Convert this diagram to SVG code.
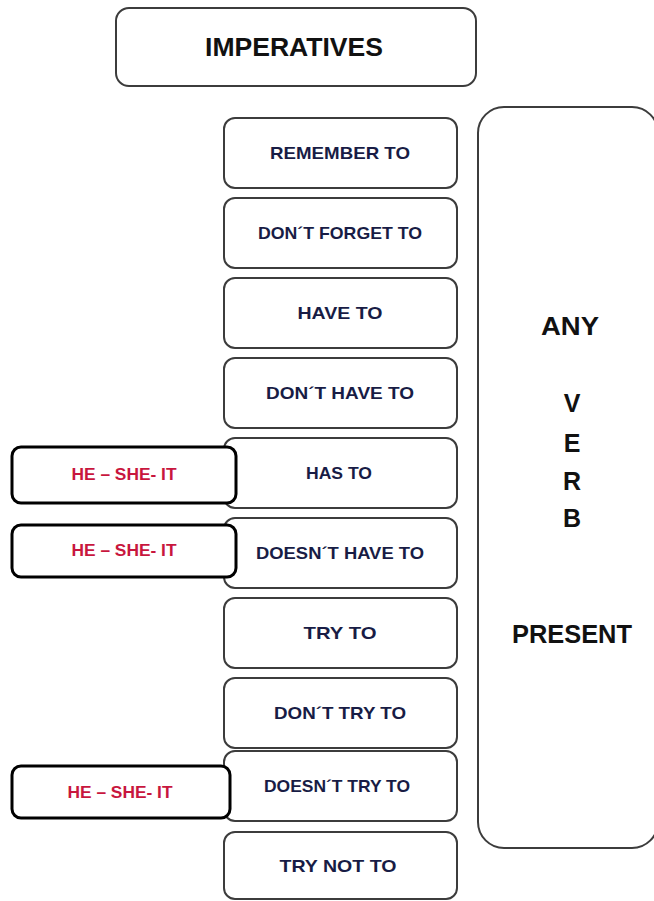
<svg xmlns="http://www.w3.org/2000/svg" width="654" height="901" viewBox="0 0 654 901">
<defs>
<style>
.box{fill:#ffffff;stroke:#3c3c3c;stroke-width:2}
.he{fill:#ffffff;stroke:#000000;stroke-width:3}
.t{font-family:"Liberation Sans",Arial,sans-serif;font-weight:bold;text-anchor:middle}
.mid{font-size:17px;fill:#181c45}
.big{font-size:25px;fill:#111111}
.red{font-size:17px;fill:#c8163e}
</style>
</defs>
<rect width="654" height="901" fill="#ffffff"/>
<g id="imperatives">
<rect class="box" x="116" y="8" width="360" height="78" rx="13"/>
<text class="t big" x="294" y="56" font-size="26" textLength="178" lengthAdjust="spacingAndGlyphs" style="font-size:26px">IMPERATIVES</text>
</g>
<g id="any-verb-present">
<rect class="box" x="478" y="107" width="180" height="741" rx="26"/>
<text class="t big" x="570" y="335" textLength="58" lengthAdjust="spacingAndGlyphs">ANY</text>
<text class="t big" x="572" y="412">V</text>
<text class="t big" x="572" y="452">E</text>
<text class="t big" x="572" y="490">R</text>
<text class="t big" x="572" y="527">B</text>
<text class="t big" x="572" y="643" textLength="120" lengthAdjust="spacingAndGlyphs">PRESENT</text>
</g>
<g id="remember-to">
<rect class="box" x="224" y="118" width="233" height="70" rx="11"/>
<text class="t mid" x="340" y="159" textLength="140" lengthAdjust="spacingAndGlyphs">REMEMBER  TO</text>
</g>
<g id="dont-forget-to">
<rect class="box" x="224" y="198" width="233" height="70" rx="11"/>
<text class="t mid" x="340" y="239" textLength="164" lengthAdjust="spacingAndGlyphs">DON´T FORGET TO</text>
</g>
<g id="have-to">
<rect class="box" x="224" y="278" width="233" height="70" rx="11"/>
<text class="t mid" x="340" y="319" textLength="85" lengthAdjust="spacingAndGlyphs">HAVE  TO</text>
</g>
<g id="dont-have-to">
<rect class="box" x="224" y="358" width="233" height="70" rx="11"/>
<text class="t mid" x="340" y="399" textLength="148" lengthAdjust="spacingAndGlyphs">DON´T HAVE  TO</text>
</g>
<g id="has-to">
<rect class="box" x="224" y="438" width="233" height="70" rx="11"/>
<text class="t mid" x="339" y="479" textLength="66" lengthAdjust="spacingAndGlyphs">HAS TO</text>
</g>
<g id="doesnt-have-to">
<rect class="box" x="224" y="518" width="233" height="70" rx="11"/>
<text class="t mid" x="340" y="559" textLength="168" lengthAdjust="spacingAndGlyphs">DOESN´T HAVE  TO</text>
</g>
<g id="try-to">
<rect class="box" x="224" y="598" width="233" height="70" rx="11"/>
<text class="t mid" x="340" y="639" textLength="73" lengthAdjust="spacingAndGlyphs">TRY   TO</text>
</g>
<g id="dont-try-to">
<rect class="box" x="224" y="678" width="233" height="70" rx="11"/>
<text class="t mid" x="340" y="719" textLength="132" lengthAdjust="spacingAndGlyphs">DON´T TRY  TO</text>
</g>
<g id="doesnt-try-to">
<rect class="box" x="224" y="751" width="233" height="70" rx="11"/>
<text class="t mid" x="337" y="792" textLength="146" lengthAdjust="spacingAndGlyphs">DOESN´T TRY TO</text>
</g>
<g id="try-not-to">
<rect class="box" x="224" y="832" width="233" height="67" rx="11"/>
<text class="t mid" x="338" y="872" textLength="117" lengthAdjust="spacingAndGlyphs">TRY  NOT  TO</text>
</g>
<g id="he-she-it-1">
<rect class="he" x="12" y="447" width="224" height="56" rx="9"/>
<text class="t red" x="124" y="480" textLength="105" lengthAdjust="spacingAndGlyphs">HE – SHE- IT</text>
</g>
<g id="he-she-it-2">
<rect class="he" x="12" y="525" width="224" height="52" rx="9"/>
<text class="t red" x="124" y="556" textLength="105" lengthAdjust="spacingAndGlyphs">HE – SHE- IT</text>
</g>
<g id="he-she-it-3">
<rect class="he" x="12" y="766" width="218" height="52" rx="9"/>
<text class="t red" x="120" y="798" textLength="105" lengthAdjust="spacingAndGlyphs">HE – SHE- IT</text>
</g>
<g id="connectors"></g>
</svg>
